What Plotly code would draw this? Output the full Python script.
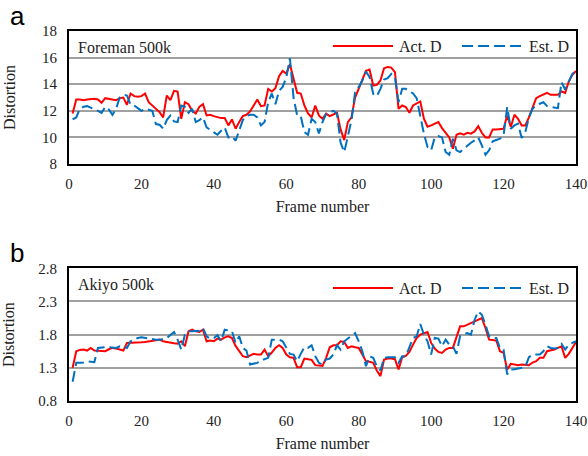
import plotly.graph_objects as go
from plotly.subplots import make_subplots

# Frame indices shared by both sequences
frames = list(range(1, 141))

# Foreman 500k: actual and estimated distortion per frame
foreman_act = [
    11.8, 12.85, 12.85, 12.8, 12.85, 12.9, 12.9, 12.85, 12.6, 12.95,
    12.9, 12.9, 12.8, 12.95, 13.0, 12.45, 13.3, 13.1, 13.05, 13.1,
    13.3, 12.65, 12.4, 12.1, 11.9, 11.5, 13.15, 12.8, 13.5, 13.45,
    11.4, 12.65, 12.5, 12.0, 11.8, 12.3, 12.5, 11.65, 11.7, 11.6,
    11.5, 11.45, 11.45, 10.9, 11.35, 10.65, 11.15, 11.6, 11.7, 11.95,
    12.4, 12.85, 12.35, 12.4, 13.65, 13.45, 13.7, 14.6, 15.0, 14.8,
    15.5, 14.3, 13.35, 13.3, 12.4, 11.8, 11.5, 12.4, 11.65, 11.4,
    11.78, 11.6, 11.7, 11.85, 10.6, 9.8, 11.15, 11.5, 13.0, 13.65,
    14.4, 15.0, 15.1, 13.9, 13.95, 14.28, 15.2, 15.3, 15.25, 14.9,
    12.15, 12.4, 12.28, 11.85, 12.4, 12.55, 12.7, 11.4, 10.8, 10.9,
    11.05, 11.15, 10.7, 10.3, 10.0, 9.15, 10.2, 10.3, 10.2, 10.35,
    10.28, 10.45, 10.85, 10.35, 10.0, 10.0, 10.6, 10.6, 10.6, 10.65,
    11.65, 10.78, 11.7, 11.4, 10.9, 10.9, 11.5, 12.3, 12.95, 13.1,
    13.2, 13.35, 13.2, 13.2, 13.2, 13.45, 13.35, 14.2, 14.7, 15.0,
]
foreman_est = [
    11.35, 11.5, 12.15, 12.3, 12.35, 12.25, 12.1, 12.0, 11.85, 12.3,
    12.1, 11.7, 12.15, 13.0, 13.2, 13.15, 12.45, 12.4, 12.2, 12.0,
    12.15, 12.1, 12.0, 11.0, 10.95, 10.65, 11.3, 11.65, 11.2, 11.15,
    12.4, 12.3, 11.85, 12.15, 11.15, 11.3, 11.5, 10.75, 10.55, 10.4,
    10.2, 10.5, 10.75, 10.0, 10.1, 9.75, 10.5, 11.3, 11.6, 11.7,
    11.7, 11.5, 10.9, 11.15, 12.65, 13.3, 12.5, 13.5, 13.8, 14.5,
    15.95, 13.0, 11.65, 11.6, 10.4, 10.2, 11.4, 11.15, 10.3, 11.15,
    11.78, 11.9, 12.0, 11.78, 9.6, 8.9, 10.15, 11.28, 13.4, 13.78,
    14.28, 14.95, 14.53, 13.28, 13.1, 13.65, 14.35, 14.45, 14.78, 14.53,
    12.65, 13.65, 13.65, 13.5, 13.3, 12.95, 11.6, 10.28, 9.28, 9.03,
    10.0, 10.1, 10.0, 8.9, 8.7, 9.9, 9.03, 8.9, 9.15, 9.4,
    9.6, 9.78, 10.0, 9.4, 8.7, 9.03, 9.7, 9.8, 9.9, 10.15,
    12.28, 10.65, 10.9, 11.03, 9.95, 10.4, 11.5, 12.15, 12.4, 12.53,
    12.65, 12.35, 12.3, 12.28, 12.2, 14.15, 13.6, 14.2, 14.78, 15.0,
]

# Akiyo 500k: actual and estimated distortion per frame
akiyo_act = [
    1.3, 1.55, 1.57, 1.575, 1.56, 1.6, 1.56, 1.56, 1.56, 1.55,
    1.58, 1.6, 1.59, 1.58, 1.56, 1.675, 1.675, 1.675, 1.68, 1.685,
    1.69, 1.695, 1.70, 1.715, 1.725, 1.70, 1.69, 1.675, 1.67, 1.665,
    1.70, 1.625, 1.85, 1.875, 1.85, 1.84, 1.875, 1.70, 1.71, 1.70,
    1.74, 1.725, 1.76, 1.775, 1.75, 1.63, 1.55, 1.475, 1.46, 1.48,
    1.51, 1.5, 1.5, 1.575, 1.475, 1.53, 1.6, 1.64, 1.6, 1.5,
    1.46, 1.45, 1.31, 1.31, 1.44, 1.43, 1.42, 1.34, 1.33, 1.33,
    1.45, 1.61, 1.64, 1.64, 1.70, 1.69, 1.6, 1.625, 1.61, 1.6,
    1.5, 1.40, 1.39, 1.375, 1.26, 1.175, 1.425, 1.44, 1.44, 1.43,
    1.275, 1.46, 1.48, 1.54, 1.65, 1.75, 1.8, 1.825, 1.84, 1.675,
    1.59, 1.54, 1.525, 1.575, 1.6, 1.6, 1.75, 1.925, 1.925, 1.95,
    1.975, 2.0, 2.025, 2.05, 1.9, 1.725, 1.72, 1.71, 1.55, 1.525,
    1.275, 1.36, 1.35, 1.34, 1.35, 1.35, 1.34, 1.38, 1.40, 1.45,
    1.45, 1.55, 1.56, 1.575, 1.6, 1.625, 1.45, 1.51, 1.6, 1.69,
]
akiyo_est = [
    1.09, 1.375, 1.375, 1.38, 1.4, 1.39, 1.385, 1.6, 1.61, 1.61,
    1.61, 1.61, 1.6, 1.625, 1.62, 1.6, 1.7, 1.725, 1.75, 1.76,
    1.75, 1.745, 1.74, 1.725, 1.725, 1.73, 1.75, 1.8, 1.84, 1.725,
    1.575, 1.8, 1.85, 1.85, 1.85, 1.86, 1.9, 1.775, 1.74, 1.75,
    1.79, 1.7, 1.875, 1.86, 1.85, 1.675, 1.775, 1.6, 1.56, 1.35,
    1.36, 1.375, 1.41, 1.43, 1.45, 1.725, 1.725, 1.725, 1.70, 1.6,
    1.51, 1.5, 1.40, 1.51, 1.61, 1.6, 1.64, 1.475, 1.375, 1.35,
    1.425, 1.44, 1.5, 1.64, 1.575, 1.70, 1.74, 1.775, 1.825, 1.70,
    1.55, 1.325, 1.475, 1.45, 1.325, 1.26, 1.45, 1.46, 1.46, 1.46,
    1.375, 1.475, 1.475, 1.6, 1.75, 1.775, 1.96, 1.8, 1.70, 1.5,
    1.75, 1.74, 1.625, 1.725, 1.65, 1.625, 1.51, 1.78, 1.8, 1.825,
    1.8, 2.025, 2.15, 2.10, 1.95, 1.78, 1.75, 1.75, 1.6, 1.575,
    1.2, 1.275, 1.28, 1.29, 1.29, 1.31, 1.46, 1.5, 1.5, 1.5,
    1.55, 1.625, 1.6, 1.59, 1.6, 1.66, 1.575, 1.65, 1.675, 1.70,
]

x_ticks = [0, 20, 40, 60, 80, 100, 120, 140]
foreman_ticks = [8, 10, 12, 14, 16, 18]
akiyo_ticks = [0.8, 1.3, 1.8, 2.3, 2.8]
akiyo_ticklabels = ["0.8", "1.3", "1.8", "2.3", "2.8"]

panel_letters = ["a", "b"]
sequence_names = ["Foreman 500k", "Akiyo 500k"]
series_names = ["Act. D", "Est. D"]

RED = "#FF0000"
BLUE = "#0070C0"
DASH = "11px,5px"
SERIF = "Liberation Serif"
SANS = "Liberation Sans"

W, H = 588, 456
ML, MR, MT, MB = 69, 12, 31, 55
PW, PH = W - ML - MR, H - MT - MB


def px_x(px):
    return (px - ML) / PW


def px_y(py):
    return (H - MB - py) / PH


fig = make_subplots(rows=2, cols=1, vertical_spacing=0.0)

fig.add_trace(go.Scatter(x=frames, y=foreman_act, mode="lines", name=series_names[0],
                         line=dict(color=RED, width=2), showlegend=False), row=1, col=1)
fig.add_trace(go.Scatter(x=frames, y=foreman_est, mode="lines", name=series_names[1],
                         line=dict(color=BLUE, width=2, dash=DASH), showlegend=False), row=1, col=1)
fig.add_trace(go.Scatter(x=frames, y=akiyo_act, mode="lines", name=series_names[0],
                         line=dict(color=RED, width=2), showlegend=False), row=2, col=1)
fig.add_trace(go.Scatter(x=frames, y=akiyo_est, mode="lines", name=series_names[1],
                         line=dict(color=BLUE, width=2, dash=DASH), showlegend=False), row=2, col=1)

axis_common = dict(
    showline=True, linecolor="black", linewidth=2, mirror=True,
    tickfont=dict(family=SERIF, size=15, color="#222"),
    zeroline=False,
)
x_common = dict(axis_common, range=[0, 140], tickvals=x_ticks, showgrid=False,
                ticks="", ticklabelstandoff=5,
                title=dict(text="Frame number", font=dict(family=SERIF, size=16, color="#222"),
                           standoff=10))
y_common = dict(axis_common, showgrid=True, gridcolor="#A0A0A0", gridwidth=1.5,
                ticks="", ticklabelstandoff=7,
                title=dict(text="Distortion", font=dict(family=SERIF, size=16, color="#222"),
                           standoff=22))

top_dom = [px_y(164), 1.0]
bot_dom = [0.0, px_y(268.3)]

fig.update_layout(
    xaxis=dict(x_common, domain=[0, 1], anchor="y"),
    yaxis=dict(y_common, domain=top_dom, range=[8, 18], tickvals=foreman_ticks, anchor="x"),
    xaxis2=dict(x_common, domain=[0, 1], anchor="y2"),
    yaxis2=dict(y_common, domain=bot_dom, range=[0.8, 2.8], tickvals=akiyo_ticks,
                ticktext=akiyo_ticklabels, anchor="x2"),
)

shapes = []
annotations = []

# Panel letters
for letter, py in zip(panel_letters, [16, 253]):
    annotations.append(dict(text=letter, x=px_x(17), y=px_y(py), xref="paper", yref="paper",
                            xanchor="center", yanchor="middle", showarrow=False,
                            font=dict(family=SANS, size=26, color="black")))

# Sequence labels and per-panel legend keys
for name, top_px, legend_py in zip(sequence_names, [31, 268.3], [46, 288]):
    annotations.append(dict(text=name, x=px_x(76), y=px_y(top_px + 16.5), xref="paper", yref="paper",
                            xanchor="left", yanchor="middle", showarrow=False,
                            font=dict(family=SERIF, size=16, color="#222")))
    for (x0, x1, tx), color, dash, label in zip(
            [(333, 393, 397), (462, 522, 527)], [RED, BLUE], ["solid", DASH], series_names):
        shapes.append(dict(type="line", xref="paper", yref="paper",
                           x0=px_x(x0), x1=px_x(x1), y0=px_y(legend_py), y1=px_y(legend_py),
                           line=dict(color=color, width=2, dash=dash)))
        annotations.append(dict(text=label, x=px_x(tx), y=px_y(legend_py), xref="paper", yref="paper",
                                xanchor="left", yanchor="middle", showarrow=False,
                                font=dict(family=SERIF, size=16, color="#222")))

fig.update_layout(
    width=W, height=H,
    margin=dict(l=ML, r=MR, t=MT, b=MB, autoexpand=False),
    paper_bgcolor="white", plot_bgcolor="white",
    shapes=shapes, annotations=annotations,
    showlegend=False,
)

fig.write_html("out.html")
